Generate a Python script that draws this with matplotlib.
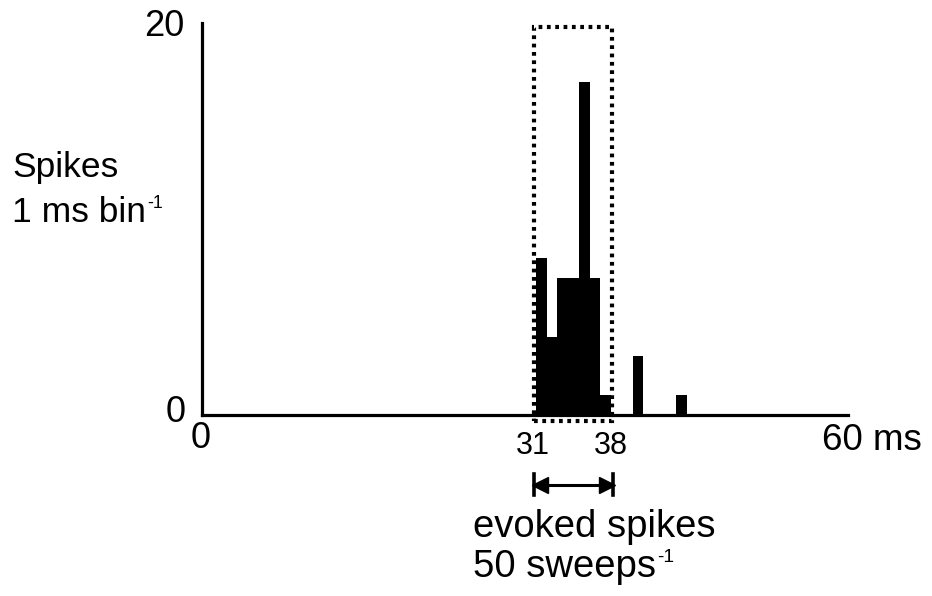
import matplotlib
matplotlib.use("Agg")
import matplotlib.pyplot as plt
from matplotlib.patches import Rectangle

plt.rcParams['font.family'] = ['Liberation Sans', 'DejaVu Sans']

# Data: histogram bins (ms, left edge) and spike counts
bin_starts = [31, 32, 33, 34, 35, 36, 37, 40, 44]
spike_counts = [8, 4, 7, 7, 17, 7, 1, 3, 1]
window = [31, 38]
x_range = [0, 60]
y_range = [0, 20]

W, H = 932, 596
fig = plt.figure(figsize=(W / 100, H / 100), dpi=100)
left, right, bottom, top = 202, 848, 415, 23
ax = fig.add_axes([left / W, 1 - bottom / H, (right - left) / W, (bottom - top) / H])

ax.bar(bin_starts, spike_counts, width=1, align='edge', color='black', linewidth=0)
ax.set_xlim(*x_range)
ax.set_ylim(*y_range)
for s in ['top', 'right']:
    ax.spines[s].set_visible(False)
for s in ['left', 'bottom']:
    ax.spines[s].set_linewidth(2.3)
ax.set_xticks([])
ax.set_yticks([])
ax.patch.set_alpha(0)

# dotted window box
rect = Rectangle((window[0] - 0.15, -0.3), window[1] - window[0] + 0.2, 20.1,
                 fill=False, edgecolor='black', linewidth=3.0,
                 linestyle=(0, (0.9, 1.1)), clip_on=False)
ax.add_patch(rect)

# arrow below window
ya = -3.55
ax.plot(window, [ya, ya], color='black', lw=2.2, clip_on=False)
ax.plot([window[0] + 0.35], [ya], marker='<', color='black', markersize=12, clip_on=False)
ax.plot([window[1] - 0.35], [ya], marker='>', color='black', markersize=12, clip_on=False)
for xv in [window[0] - 0.2, window[1] + 0.2]:
    ax.plot([xv, xv], [ya - 0.55, ya + 0.55], color='black', lw=2.6, clip_on=False)

def ft(x, y, s, **kw):
    return fig.text(x / W, 1 - y / H, s, **kw)

renderer = fig.canvas.get_renderer()

def with_sup(x, y, s, sup, size):
    t = ft(x, y, s, ha='left', va='baseline', fontsize=size)
    bb = t.get_window_extent(renderer=renderer)
    fig.text((bb.x1 + 1) / W, (H - y) / H + 0.55 * size * 1.389 * 0.72 / H, sup,
             ha='left', va='baseline', fontsize=size * 0.5)

ft(184, 27, str(y_range[1]), ha='right', va='center', fontsize=26)
ft(186, 412, str(y_range[0]), ha='right', va='center', fontsize=26)
ft(201, 439, str(x_range[0]), ha='center', va='center', fontsize=26)
ft(822, 441, "%d ms" % x_range[1], ha='left', va='center', fontsize=26.5)
ft(533, 446, str(window[0]), ha='center', va='center', fontsize=22)
ft(611, 446, str(window[1]), ha='center', va='center', fontsize=22)
ft(12, 177, "Spikes", ha='left', va='baseline', fontsize=25.5)
with_sup(12, 222, "1 ms bin", "-1", 25.5)
ft(473, 537, "evoked spikes", ha='left', va='baseline', fontsize=27.5)
with_sup(473, 577, "50 sweeps", "-1", 27.5)

fig.savefig("out.png", dpi=100)
